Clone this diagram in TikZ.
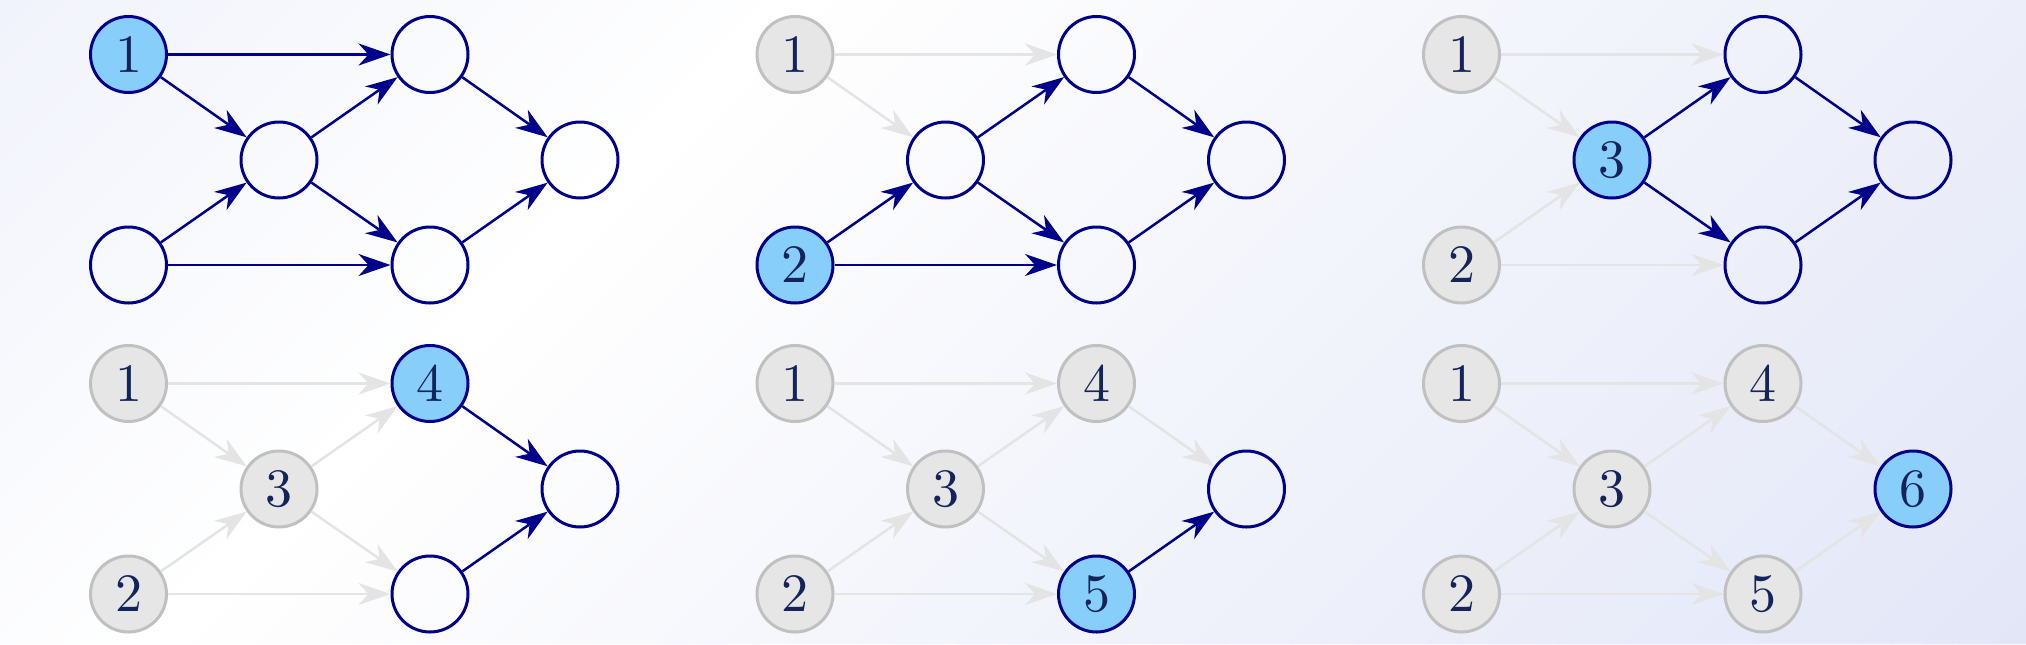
\documentclass[tikz,border=0pt]{standalone}
\usepackage{graphicx}
\usetikzlibrary{arrows.meta}
\definecolor{bgA}{HTML}{F1F3FC}
\definecolor{bgB}{HTML}{E2E6F7}
\definecolor{navyc}{RGB}{0,0,139}
\definecolor{skyc}{RGB}{135,206,250}
\definecolor{txtc}{RGB}{20,35,90}
\definecolor{gfill}{RGB}{230,230,230}
\definecolor{gbord}{RGB}{192,192,192}
\definecolor{gedge}{RGB}{228,228,228}
\newcommand{\bignum}[1]{\scalebox{2.7}{#1}}
\tikzset{
  basenode/.style={circle, minimum size=38pt, inner sep=0pt, line width=1.5pt,
    font=\fontsize{10}{12}\selectfont, text=txtc},
  curnode/.style={basenode, draw=navyc, fill=skyc},
  todonode/.style={basenode, draw=navyc},
  donenode/.style={basenode, draw=gbord, fill=gfill},
  edgeactive/.style={draw=navyc, line width=1.25pt,
    -{Stealth[length=16pt,width=11pt,inset=5pt]}},
  edgedone/.style={draw=gedge, line width=1.25pt,
    -{Stealth[length=16pt,width=11pt,inset=5pt]}},
}
\begin{document}
\begin{tikzpicture}[x=0.5pt,y=-0.5pt]
\useasboundingbox (0,0) rectangle (2026,644);
% background diagonal gradient
\begin{scope}
\clip (0,0) rectangle (2026,644);
\foreach \i in {0,...,79}{
  \pgfmathsetmacro\sa{\i*33.375-1}
  \pgfmathsetmacro\sb{(\i+1)*33.375+1}
  \pgfmathsetmacro\tt{(\i+0.5)/80}
  \pgfmathsetmacro\pa{\tt<0.3 ? (1-\tt/0.3)*100 : 0}
  \pgfmathsetmacro\pb{\tt<0.3 ? 0 : (\tt-0.3)/0.7*100}
  \ifdim\tt pt<0.3pt
    \colorlet{bandc}{bgA!\pa!white}
  \else
    \colorlet{bandc}{bgB!\pb!white}
  \fi
  \fill[bandc] (\sa,0) -- (\sb,0) -- (\sb-644,644) -- (\sa-644,644) -- cycle;
}
\end{scope}
\foreach \k/\cx/\cy in {1/0/0, 2/666.5/0, 3/1333/0, 4/0/329, 5/666.5/329, 6/1333/329}{
  \begin{scope}[shift={(\cx,\cy)}]
  \foreach \n/\nx/\ny in {1/128.5/54.5, 2/128.5/265, 3/279/160, 4/430/54.5, 5/430/265, 6/580/160}{
    \ifnum\n<\k\relax
      \node[donenode] (p\k n\n) at (\nx,\ny) {\bignum{\n}};
    \else\ifnum\n=\k\relax
      \node[curnode] (p\k n\n) at (\nx,\ny) {\bignum{\n}};
    \else
      \node[todonode] (p\k n\n) at (\nx,\ny) {};
    \fi\fi
  }
  \foreach \a/\b in {1/3,1/4,2/3,2/5,3/4,3/5,4/6,5/6}{
    \ifnum\a<\k\relax
      \draw[edgedone] (p\k n\a) -- (p\k n\b);
    \else
      \draw[edgeactive] (p\k n\a) -- (p\k n\b);
    \fi
  }
  \end{scope}
}
\end{tikzpicture}
\end{document}
